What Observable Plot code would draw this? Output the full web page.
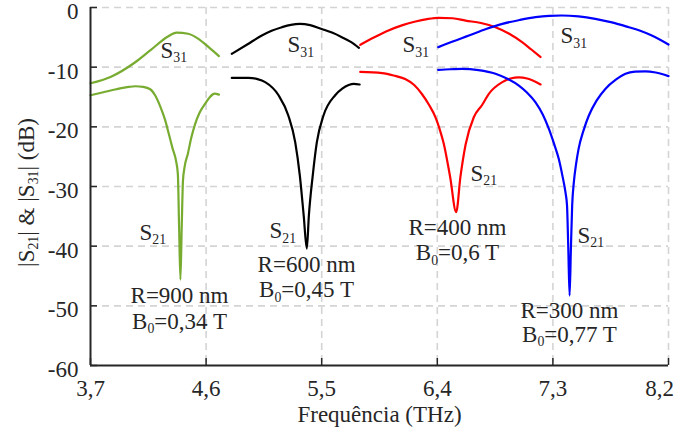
<!DOCTYPE html>
<html>
<head>
<meta charset="utf-8">
<script src="https://cdn.jsdelivr.net/npm/d3@7"></script>
<script src="https://cdn.jsdelivr.net/npm/@observablehq/plot@0.6"></script>
<style>
  body { margin: 0; background: #fff; }
  svg { display: block; }
</style>
</head>
<body>
<div id="chart"></div>
<script>
// Frequency ticks (THz) and level ticks (dB)
const xTicks = [3.7, 4.6, 5.5, 6.4, 7.3, 8.2];
const yTicks = [-60, -50, -40, -30, -20, -10, 0];

// [frequency THz, dB] pairs for each structure
// R = 900 nm, B0 = 0.34 T
const s31R900 = [[3.70,-12.7],[3.86,-11.6],[4.04,-9.3],[4.17,-7.1],[4.30,-4.9],[4.37,-4.2],[4.46,-4.4],[4.54,-5.25],[4.62,-6.65],[4.70,-8.15]];
const s21R900 = [[3.70,-14.7],[3.80,-14.2],[3.90,-13.7],[4.00,-13.3],[4.05,-13.2],[4.11,-13.3],[4.165,-13.7],[4.205,-14.8],[4.245,-16.7],[4.28,-18.8],[4.31,-21.2],[4.34,-23.7],[4.365,-25.6],[4.38,-27.9],[4.39,-37],[4.40,-45.6],[4.41,-37],[4.42,-29],[4.432,-26.8],[4.458,-24.5],[4.485,-21.8],[4.515,-19.5],[4.55,-17.6],[4.593,-16.1],[4.63,-15.0],[4.665,-14.45],[4.70,-14.6]];
// R = 600 nm, B0 = 0.45 T
const s31R600 = [[4.80,-7.76],[4.92,-6.2],[5.034,-4.7],[5.11,-3.9],[5.19,-3.3],[5.26,-2.9],[5.33,-2.74],[5.41,-2.95],[5.50,-3.6],[5.58,-4.2],[5.657,-4.97],[5.73,-5.8],[5.79,-6.76]];
const s21R600 = [[4.80,-11.8],[4.93,-11.8],[5.00,-12.0],[5.06,-12.5],[5.164,-14.7],[5.24,-18.1],[5.294,-22.6],[5.33,-28.2],[5.36,-34.9],[5.384,-40.4],[5.40,-34.9],[5.43,-28.2],[5.462,-22.6],[5.514,-18.1],[5.605,-14.7],[5.66,-13.6],[5.71,-13.0],[5.75,-12.8],[5.795,-12.9]];
// R = 400 nm, B0 = 0.6 T
const s31R400 = [[5.80,-6.26],[5.91,-5.0],[6.02,-3.85],[6.13,-2.95],[6.23,-2.35],[6.32,-1.95],[6.41,-1.73],[6.52,-1.8],[6.62,-2.2],[6.74,-2.6],[6.853,-3.3],[6.96,-4.4],[7.06,-5.8],[7.13,-7.0],[7.204,-8.3]];
const s21R400 = [[5.80,-10.8],[5.97,-11.0],[6.06,-11.4],[6.15,-12.0],[6.22,-13.0],[6.28,-14.5],[6.335,-16.3],[6.386,-18.4],[6.42,-20.5],[6.45,-22.8],[6.50,-28.4],[6.547,-34.3],[6.58,-28.4],[6.62,-23.0],[6.684,-18.4],[6.75,-16.3],[6.80,-14.5],[6.906,-12.5],[6.97,-11.9],[7.035,-11.7],[7.10,-11.9],[7.204,-12.9]];
// R = 300 nm, B0 = 0.77 T
const s31R300 = [[6.407,-6.65],[6.52,-5.7],[6.646,-4.7],[6.78,-3.6],[6.906,-2.74],[7.04,-2.1],[7.165,-1.62],[7.27,-1.4],[7.37,-1.34],[7.50,-1.5],[7.63,-1.9],[7.76,-2.5],[7.89,-3.3],[7.98,-3.9],[8.07,-4.7],[8.20,-6.2]];
const s21R300 = [[6.407,-10.45],[6.50,-10.35],[6.594,-10.3],[6.72,-10.5],[6.853,-11.1],[6.95,-12.0],[7.035,-13.1],[7.10,-14.3],[7.165,-15.9],[7.22,-17.9],[7.268,-20.3],[7.31,-22.9],[7.346,-25.4],[7.375,-28.3],[7.398,-31.0],[7.41,-33.2],[7.42,-40.5],[7.43,-48.3],[7.44,-40.5],[7.45,-33.2],[7.463,-29.3],[7.48,-26.3],[7.50,-23.7],[7.54,-20.5],[7.58,-18.1],[7.64,-15.6],[7.71,-13.6],[7.79,-12.1],[7.865,-11.1],[7.94,-10.75],[8.02,-10.7],[8.10,-10.9],[8.20,-11.5]];

const green = "#77ac30", black = "#000000", red = "#ff0000", blue = "#0000ff";
const curves = [
  [s31R900, green], [s21R900, green],
  [s31R600, black], [s21R600, black],
  [s31R400, red], [s21R400, red],
  [s31R300, blue], [s21R300, blue]
];

// Curve labels ("_nn" marks a subscript)
const paramLabels = [
  {f: 4.393, db: -49.6, t: "R=900 nm"}, {f: 4.393, db: -53.8, t: "B_0=0,34 T"},
  {f: 5.382, db: -44.4, t: "R=600 nm"}, {f: 5.382, db: -48.6, t: "B_0=0,45 T"},
  {f: 6.557, db: -38.2, t: "R=400 nm"}, {f: 6.557, db: -42.4, t: "B_0=0,6 T"},
  {f: 7.429, db: -52.1, t: "R=300 nm"}, {f: 7.429, db: -56.1, t: "B_0=0,77 T"}
];
const sLabels = [
  {f: 4.245, db: -8.38, t: "S_31"}, {f: 4.081, db: -38.9, t: "S_21"},
  {f: 5.234, db: -7.54, t: "S_31"}, {f: 5.094, db: -38.7, t: "S_21"},
  {f: 6.129, db: -7.54, t: "S_31"}, {f: 6.659, db: -29.0, t: "S_21"},
  {f: 7.359, db: -6.03, t: "S_31"}, {f: 7.492, db: -39.4, t: "S_21"}
];
const xTitle = "Frequência (THz)";
const yTitle = "|S_21| & |S_31| (dB)";

const ink = "#262626";
const gridStyle = {stroke: "#d4d4d4", strokeOpacity: 1, strokeWidth: 1.6, strokeDasharray: "7,5"};
const blank = () => "";

const chart = Plot.plot({
  width: 675,
  height: 434,
  marginLeft: 90,
  marginRight: 7,
  marginTop: 7,
  marginBottom: 69,
  style: {fontFamily: "'Liberation Serif', 'Times New Roman', serif", fontSize: "23px", background: "#fff", color: ink},
  x: {domain: [3.7, 8.2]},
  y: {domain: [-60, 0]},
  marks: [
    Plot.gridX(xTicks.slice(1), gridStyle),
    Plot.gridY(yTicks.slice(1), gridStyle),
    ...curves.map(([pts, color]) => Plot.line(pts, {x: d => d[0], y: d => d[1], stroke: color, strokeWidth: 2.2, curve: "monotone-x"})),
    Plot.text(sLabels, {x: "f", y: "db", text: "t", textAnchor: "start", lineAnchor: "bottom", fill: ink}),
    Plot.text(paramLabels, {x: "f", y: "db", text: "t", textAnchor: "middle", lineAnchor: "bottom", fill: ink}),
    Plot.ruleX([3.7], {stroke: ink, strokeWidth: 2}),
    Plot.ruleY([-60], {stroke: ink, strokeWidth: 2}),
    // inward tick marks
    Plot.axisX({ticks: xTicks, tickSize: -7, tickFormat: blank, label: null, stroke: ink, strokeWidth: 1.5}),
    Plot.axisY({ticks: yTicks, tickSize: -7, tickFormat: blank, label: null, stroke: ink, strokeWidth: 1.5}),
    // tick labels
    Plot.axisX({ticks: xTicks, tickSize: 0, tickPadding: 14, tickFormat: d => d.toFixed(1).replace(".", ","), label: null, fill: ink}),
    Plot.axisY({ticks: yTicks, tickSize: 0, tickPadding: 12, dy: 4, tickFormat: d => String(d), label: null, fill: ink}),
    Plot.text([xTitle], {text: d => d, frameAnchor: "bottom", textAnchor: "middle", lineAnchor: "bottom", dy: 56, fill: ink}),
    Plot.text([yTitle], {text: d => d, frameAnchor: "left", textAnchor: "middle", lineAnchor: "middle", dx: -64, dy: 6, rotate: -90, fill: ink})
  ]
});

// Turn "_nn" runs into lowered, smaller tspans
chart.querySelectorAll("text").forEach(node => {
  const s = node.textContent;
  if (!/_\d+/.test(s)) return;
  const parts = s.split(/_(\d+)/);
  node.textContent = "";
  const ns = "http://www.w3.org/2000/svg";
  parts.forEach((p, i) => {
    if (!p) return;
    const ts = document.createElementNS(ns, "tspan");
    ts.textContent = p;
    if (i % 2 === 1) {
      ts.setAttribute("font-size", "0.6em");
      ts.setAttribute("dy", "0.3em");
    } else if (i > 0) {
      ts.setAttribute("dy", "-0.18em");
    }
    node.appendChild(ts);
  });
});

// Keep the last frequency label inside the figure edge
const xLabels = Array.from(chart.querySelectorAll('[aria-label="x-axis tick label"] text')).filter(t => t.textContent);
if (xLabels.length) xLabels[xLabels.length - 1].setAttribute("dx", "-9");

document.getElementById("chart").appendChild(chart);
</script>
</body>
</html>
